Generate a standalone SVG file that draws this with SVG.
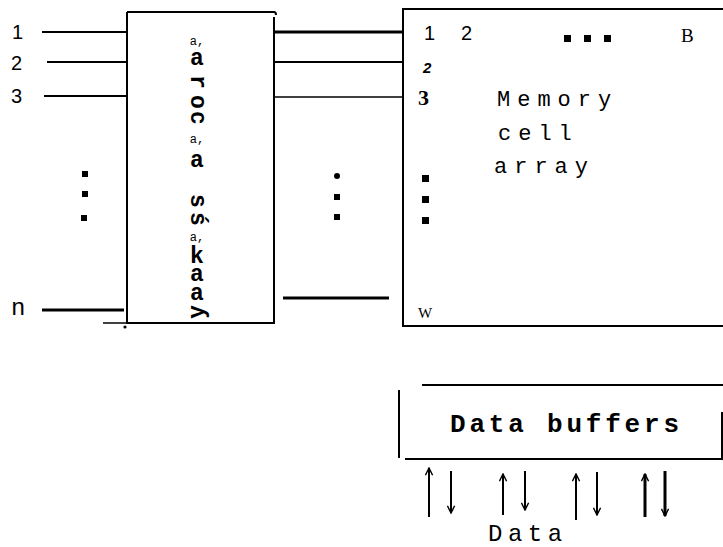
<svg xmlns="http://www.w3.org/2000/svg" width="723" height="547" viewBox="0 0 723 547">
<defs>
<style>
.ln{stroke:#000;fill:none;stroke-width:2}
.thin{stroke:#000;fill:none;stroke-width:1.5}
.thick{stroke:#000;fill:none;stroke-width:3}
.lbl{font-family:"Liberation Sans",Arial,sans-serif;font-size:20px;fill:#000}
.mono{font-family:"Liberation Mono","DejaVu Sans Mono",monospace;fill:#000}
.dec{font-family:"Liberation Mono","DejaVu Sans Mono",monospace;font-weight:bold;font-size:23px;fill:#000;text-anchor:middle}
.sup{font-family:"Liberation Mono","DejaVu Sans Mono",monospace;font-size:12px;fill:#000;text-anchor:middle}
.dot{fill:#000}
</style>
<marker id="ah" viewBox="0 0 10 10" refX="9" refY="5" markerWidth="9" markerHeight="9" orient="auto" markerUnits="userSpaceOnUse">
<path d="M1,1 L9,5 L1,9" fill="none" stroke="#000" stroke-width="1.6"/>
</marker>
</defs>
<rect width="723" height="547" fill="#fff"/>

<g id="inputs">
<text class="lbl" x="12" y="39">1</text>
<text class="lbl" x="11" y="70">2</text>
<text class="lbl" x="11" y="103">3</text>
<text class="mono" x="11" y="315" font-size="24">n</text>
<rect class="dot" x="82" y="171" width="6" height="6"/>
<rect class="dot" x="82" y="191" width="6" height="6"/>
<rect class="dot" x="81" y="215" width="6" height="6"/>
</g>

<g id="decoder">
<path class="ln" d="M127,12 L274,12 Q276,12 276,15 M127,12 L127,323 L274,323 L274,17"/>
<path class="thin" d="M103,323 L127,323"/>
<circle class="dot" cx="125" cy="327" r="1.6"/>
<text class="sup" x="197" y="45">a,</text>
<text class="dec" x="197" y="65">a</text>
<text class="dec" transform="translate(197,82) rotate(90)" x="0" y="6">r</text>
<text class="dec" transform="translate(197,102) rotate(90)" x="0" y="6">o</text>
<text class="dec" transform="translate(197,118) rotate(90)" x="0" y="6">c</text>
<text class="sup" x="197" y="143">a,</text>
<text class="dec" x="197" y="167">a</text>
<text class="dec" transform="translate(197,201) rotate(90)" x="0" y="6">s</text>
<text class="dec" transform="translate(197,219) rotate(90)" x="0" y="6">ś</text>
<text class="sup" x="197" y="241">a,</text>
<text class="dec" x="197" y="263">k</text>
<text class="dec" x="197" y="281">a</text>
<text class="dec" x="197" y="300">a</text>
<text class="dec" transform="translate(197,312) rotate(90)" x="0" y="6">ʎ</text>
</g>

<g id="connectors">
<path class="ln" d="M42,32 L127,32"/>
<path class="ln" d="M47,62 L127,62"/>
<path class="ln" d="M44,96 L127,96"/>
<path class="thick" d="M42,310 L124,310"/>
<path class="thick" d="M274,32 L403,32"/>
<path class="ln" d="M274,62 L403,62"/>
<path class="thin" d="M274,97 L403,97"/>
<path class="thick" d="M283,298 L389,298"/>
<line class="ln" x1="429" y1="517" x2="429" y2="468" marker-end="url(#ah)"/>
<line class="ln" x1="451" y1="471" x2="451" y2="513" marker-end="url(#ah)"/>
<line class="ln" x1="503" y1="515" x2="503" y2="474" marker-end="url(#ah)"/>
<line class="ln" x1="525" y1="471" x2="525" y2="510" marker-end="url(#ah)"/>
<line class="ln" x1="576" y1="520" x2="576" y2="474" marker-end="url(#ah)"/>
<line class="ln" x1="597" y1="472" x2="597" y2="515" marker-end="url(#ah)"/>
<line class="thick" x1="645" y1="517" x2="645" y2="474" marker-end="url(#ah)"/>
<line class="thick" x1="665" y1="471" x2="665" y2="516" marker-end="url(#ah)"/>
<circle class="dot" cx="337" cy="176" r="3"/>
<rect class="dot" x="334" y="194" width="6" height="6"/>
<rect class="dot" x="334" y="214" width="6" height="6"/>
</g>

<g id="memory">
<path class="ln" d="M723,9 L403,9 L403,326 L723,326"/>
<text class="lbl" x="424" y="40">1</text>
<text class="lbl" x="461" y="40">2</text>
<rect class="dot" x="564" y="35" width="7" height="7"/>
<rect class="dot" x="584" y="35" width="7" height="7"/>
<rect class="dot" x="604" y="35" width="7" height="7"/>
<text x="681" y="42" font-family="Liberation Serif,serif" font-size="19" fill="#000">B</text>
<text x="423" y="73" font-family="Liberation Sans,sans-serif" font-size="15" font-style="italic" font-weight="bold" fill="#000">2</text>
<text x="418" y="105" font-family="Liberation Serif,serif" font-size="22" font-weight="bold" fill="#000">3</text>
<text class="mono" x="497" y="106" font-size="22" letter-spacing="7">Memory</text>
<text class="mono" x="498" y="140" font-size="22" letter-spacing="7">cell</text>
<text class="mono" x="494" y="173" font-size="22" letter-spacing="7">array</text>
<rect class="dot" x="422" y="175" width="7" height="7"/>
<rect class="dot" x="422" y="196" width="7" height="7"/>
<rect class="dot" x="422" y="217" width="7" height="7"/>
<text x="418" y="318" font-family="Liberation Serif,serif" font-size="15" fill="#000">W</text>
</g>

<g id="buffers">
<path class="ln" d="M422,385 L723,385 M399,390 L399,458 M405,459 L723,459 M722,412 L722,458"/>
<text class="mono" x="450" y="432" font-size="26" font-weight="bold" letter-spacing="3.8">Data buffers</text>
<text class="mono" x="488" y="541" font-size="24" letter-spacing="5.5">Data</text>
</g>
</svg>
